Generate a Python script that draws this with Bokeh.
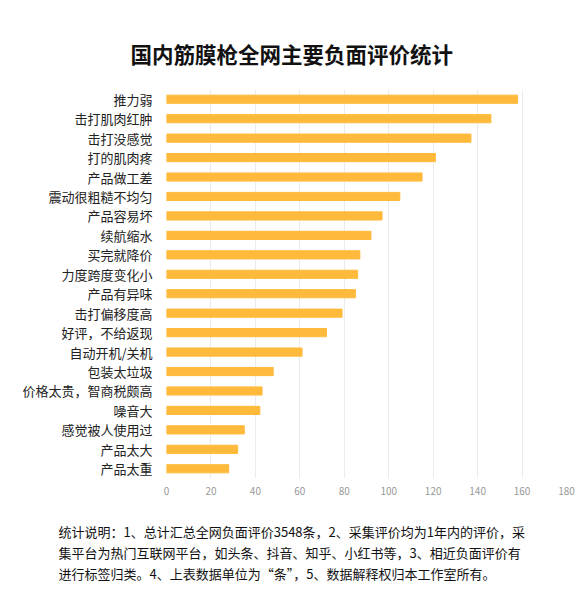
from bokeh.plotting import figure
from bokeh.models import Title, FixedTicker, Range1d
from bokeh.embed import file_html
from bokeh.resources import INLINE

categories = ["推力弱", "击打肌肉红肿", "击打没感觉", "打的肌肉疼", "产品做工差",
              "震动很粗糙不均匀", "产品容易坏", "续航缩水", "买完就降价", "力度跨度变化小",
              "产品有异味", "击打偏移度高", "好评，不给返现", "自动开机/关机", "包装太垃圾",
              "价格太贵，智商税颇高", "噪音大", "感觉被人使用过", "产品太大", "产品太重"]
counts = [158, 146, 137, 121, 115, 105, 97, 92, 87, 86,
          85, 79, 72, 61, 48, 43, 42, 35, 32, 28]
x_ticks = [0, 20, 40, 60, 80, 100, 120, 140, 160, 180]

notes = ["统计说明：1、总计汇总全网负面评价3548条，2、采集评价均为1年内的评价，采",
         "集平台为热门互联网平台，如头条、抖音、知乎、小红书等，3、相近负面评价有",
         "进行标签归类。4、上表数据单位为“条”，5、数据解释权归本工作室所有。"]

FONT = "Noto Sans CJK SC"

p = figure(width=575, height=592, y_range=list(reversed(categories)),
           x_range=Range1d(0, 180), output_backend="svg", toolbar_location=None,
           min_border_left=166, min_border_right=9, min_border_top=89, min_border_bottom=114)

p.hbar(y=categories, right=counts, height=0.42, color="#FFBA3C")

p.title.text = "国内筋膜枪全网主要负面评价统计"
p.title.text_font = FONT
p.title.text_font_size = "21.5px"
p.title.text_font_style = "bold"
p.title.text_color = "#111111"
p.title.align = "left"
p.title.offset = -36
p.title.standoff = 42

# blank spacer between the axis and the note
p.add_layout(Title(text=" ", text_font_size="13px", standoff=5), "below")
for line in notes:
    p.add_layout(Title(text=line, text_font=FONT, text_font_size="13px",
                       text_font_style="normal", text_color="#111111",
                       align="left", offset=-108, standoff=0), "below")

p.xaxis.ticker = FixedTicker(ticks=x_ticks)
p.xaxis.axis_line_color = None
p.xaxis.major_tick_line_color = None
p.xaxis.minor_tick_line_color = None
p.xaxis.major_label_text_color = "#999999"
p.xaxis.major_label_text_font_size = "10px"
p.xaxis.major_label_text_font = FONT
p.xaxis.major_label_standoff = 2

p.yaxis.axis_line_color = None
p.yaxis.major_tick_line_color = None
p.yaxis.minor_tick_line_color = None
p.yaxis.major_label_text_color = "#222222"
p.yaxis.major_label_text_font_size = "13px"
p.yaxis.major_label_text_font = FONT
p.yaxis.major_label_standoff = 8

p.xgrid.grid_line_color = "#ebebeb"
p.ygrid.grid_line_color = None
p.outline_line_color = None

open("out.html", "w").write(file_html(p, INLINE))
